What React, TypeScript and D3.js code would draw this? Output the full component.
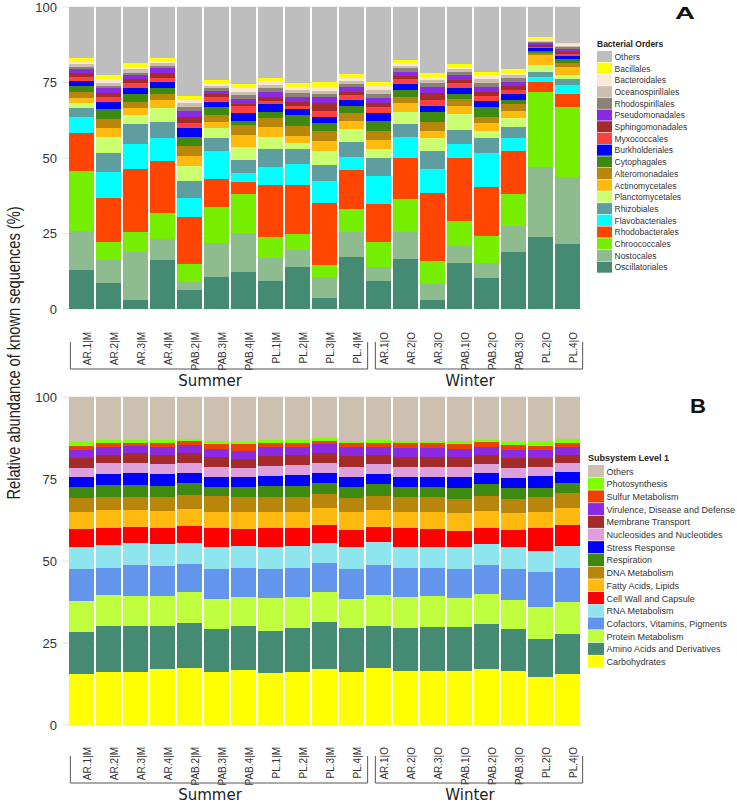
import React, { useEffect, useRef } from 'react';
import * as d3 from 'd3';

const samples = [
  'AR.1|M', 'AR.2|M', 'AR.3|M', 'AR.4|M', 'PAB.2|M', 'PAB.3|M', 'PAB.4|M', 'PL.1|M', 'PL.2|M', 'PL.3|M', 'PL.4|M',
  'AR.1|O', 'AR.2|O', 'AR.3|O', 'PAB.1|O', 'PAB.2|O', 'PAB.3|O', 'PL.2|O', 'PL.4|O'
];
const summerCount = 11;
const yTicks = [0, 25, 50, 75, 100];

// Panel A - bacterial orders (%), bottom of stack first
const oscillatoriales = [12.9, 8.7, 3.0, 16.2, 6.3, 10.7, 12.4, 9.3, 14.0, 3.8, 17.3, 9.3, 16.4, 3.0, 15.3, 10.2, 18.8, 24.0, 21.5];
const nostocales = [12.9, 7.5, 15.8, 7.0, 2.8, 11.3, 12.9, 7.5, 5.5, 6.7, 8.3, 4.7, 9.0, 5.3, 5.6, 5.1, 8.7, 23.1, 22.1];
const chroococcales = [19.9, 6.1, 6.8, 8.7, 5.8, 11.7, 12.8, 7.2, 5.2, 4.1, 7.4, 8.3, 10.9, 7.6, 8.2, 8.9, 10.6, 24.9, 23.4];
const rhodobacterales = [12.5, 14.3, 20.8, 17.2, 15.7, 9.3, 4.1, 17.1, 16.4, 20.6, 13.0, 12.5, 13.8, 22.4, 20.8, 16.3, 14.2, 3.3, 4.2];
const flavobacteriales = [5.5, 8.7, 8.2, 7.4, 6.3, 9.4, 2.7, 6.0, 6.8, 7.3, 4.2, 9.2, 7.0, 8.1, 4.7, 11.3, 4.2, 1.6, 3.0];
const rhizobiales = [3.0, 6.2, 6.7, 5.3, 5.6, 4.1, 4.4, 5.8, 5.0, 5.2, 5.2, 6.1, 4.2, 6.0, 4.7, 4.7, 3.9, 1.7, 1.8];
const planctomycetales = [1.6, 5.3, 2.9, 4.6, 5.0, 3.3, 4.5, 4.2, 2.2, 4.6, 4.1, 2.8, 4.0, 4.1, 5.3, 2.6, 2.7, 2.2, 1.5];
const actinomycetales = [1.7, 3.2, 2.2, 2.8, 3.2, 2.2, 3.8, 3.1, 2.3, 3.3, 2.9, 3.1, 2.8, 2.4, 2.7, 2.4, 2.5, 3.3, 2.7];
const alteromonadales = [2.0, 2.9, 2.3, 2.0, 3.4, 2.2, 3.3, 2.9, 3.2, 3.3, 2.4, 2.9, 2.0, 3.1, 2.1, 2.2, 2.2, 0.8, 1.4];
const cytophagales = [1.8, 3.2, 2.5, 1.9, 2.7, 2.6, 1.5, 2.2, 3.6, 2.6, 2.4, 3.4, 2.4, 3.1, 1.7, 3.1, 1.4, 0.5, 1.1];
const burkholderiales = [1.8, 2.6, 1.9, 2.2, 3.0, 1.6, 2.6, 2.5, 1.9, 2.2, 2.0, 2.5, 2.0, 2.1, 2.0, 2.2, 1.9, 0.9, 1.1];
const myxococcales = [1.1, 1.6, 1.6, 1.1, 1.9, 1.7, 2.2, 1.1, 1.1, 2.0, 1.7, 2.0, 1.7, 2.0, 1.6, 1.5, 1.4, 0.6, 0.6];
const sphingomonadales = [1.3, 1.3, 1.5, 1.6, 1.8, 1.1, 0.7, 1.4, 1.5, 2.6, 1.1, 1.5, 1.0, 2.2, 1.1, 1.5, 1.3, 0.5, 0.8];
const pseudomonadales = [1.4, 1.5, 1.3, 1.7, 2.1, 1.1, 1.7, 1.7, 1.6, 2.0, 1.4, 1.7, 1.4, 2.0, 1.7, 1.6, 1.5, 0.6, 0.8];
const rhodospirillales = [0.8, 0.7, 0.8, 0.8, 1.2, 0.8, 1.3, 1.1, 1.1, 0.9, 1.1, 1.2, 1.1, 1.3, 0.9, 1.1, 1.3, 0.4, 0.6];
const oceanospirillales = [0.9, 0.9, 1.1, 0.8, 1.3, 0.7, 1.1, 1.1, 1.1, 1.1, 1.1, 1.3, 0.8, 1.1, 1.0, 1.3, 0.9, 0.4, 0.5];
const bacteroidales = [0.8, 1.3, 0.8, 0.9, 1.1, 0.9, 1.1, 1.1, 1.1, 1.3, 1.0, 1.3, 0.8, 1.1, 0.6, 1.5, 0.8, 0.4, 0.5];
const bacillales = [1.1, 1.5, 1.1, 1.0, 1.3, 1.1, 1.4, 1.1, 1.4, 1.7, 1.2, 1.5, 1.2, 1.1, 1.1, 1.1, 1.1, 0.8, 0.6];
const othersA = [17.0, 22.5, 18.7, 16.8, 29.5, 24.2, 25.5, 23.6, 25.0, 24.7, 22.2, 24.7, 17.5, 22.0, 18.9, 21.4, 20.6, 10.0, 11.8];

const ordersA = [
  'Oscillatoriales', 'Nostocales', 'Chroococcales', 'Rhodobacterales', 'Flavobacteriales', 'Rhizobiales',
  'Planctomycetales', 'Actinomycetales', 'Alteromonadales', 'Cytophagales', 'Burkholderiales', 'Myxococcales',
  'Sphingomonadales', 'Pseudomonadales', 'Rhodospirillales', 'Oceanospirillales', 'Bacteroidales', 'Bacillales', 'Others'
];
const valuesA = [
  oscillatoriales, nostocales, chroococcales, rhodobacterales, flavobacteriales, rhizobiales, planctomycetales,
  actinomycetales, alteromonadales, cytophagales, burkholderiales, myxococcales, sphingomonadales, pseudomonadales,
  rhodospirillales, oceanospirillales, bacteroidales, bacillales, othersA
];
const colorsA = [
  '#458b74', '#8fbc8f', '#76ee00', '#ff4500', '#00ffff', '#5f9ea0', '#caff70', '#ffb90f', '#b8860b', '#3c8a0f',
  '#0000ff', '#ff4040', '#a52a2a', '#8a2be2', '#8b8178', '#cdbfae', '#fbe8d4', '#ffff00', '#bebebe'
];

// Panel B - subsystem level 1 (%), bottom of stack first
const carbohydrates = [15.5, 16.3, 16.3, 17.0, 17.3, 16.1, 16.8, 15.8, 16.3, 17.1, 16.3, 17.3, 16.6, 16.6, 16.6, 17.0, 16.5, 14.7, 15.4];
const aminoAcids = [13.0, 13.9, 13.9, 13.2, 13.7, 13.1, 13.4, 13.0, 13.2, 14.4, 13.2, 13.0, 12.9, 13.4, 13.2, 13.7, 12.7, 11.4, 12.3];
const proteinMetabolism = [9.3, 9.4, 9.2, 9.2, 9.4, 9.1, 8.7, 9.8, 9.6, 9.2, 8.9, 9.3, 9.4, 9.3, 8.8, 9.1, 8.9, 10.0, 9.7];
const cofactors = [9.8, 8.4, 9.4, 9.1, 8.6, 9.2, 8.9, 9.0, 8.7, 8.8, 9.2, 9.2, 9.1, 8.7, 9.0, 9.0, 9.5, 10.6, 10.6];
const rnaMetabolism = [6.8, 6.9, 6.6, 6.6, 6.6, 6.9, 6.8, 6.8, 6.8, 6.1, 6.6, 7.1, 6.4, 6.4, 6.6, 6.4, 6.8, 6.3, 6.6];
const cellWall = [5.4, 5.3, 5.1, 4.9, 5.1, 5.6, 5.1, 5.6, 5.4, 5.4, 5.3, 4.4, 5.6, 5.3, 5.0, 5.0, 5.1, 7.0, 6.4];
const fattyAcids = [5.0, 5.3, 5.0, 5.2, 5.2, 4.8, 5.3, 5.0, 5.0, 5.1, 5.3, 5.2, 5.0, 5.1, 5.3, 5.1, 5.2, 5.0, 5.3];
const dnaMetabolism = [4.5, 3.9, 4.1, 4.2, 4.2, 5.0, 4.4, 4.4, 4.4, 4.3, 4.5, 4.3, 4.4, 4.6, 4.3, 4.5, 4.1, 4.6, 4.3];
const respiration = [3.2, 3.8, 3.6, 3.5, 3.6, 2.7, 3.1, 3.6, 3.5, 3.3, 3.2, 3.7, 3.3, 3.3, 3.4, 3.6, 3.4, 2.8, 3.1];
const stressResponse = [3.0, 3.2, 3.5, 3.5, 3.0, 3.0, 3.0, 2.9, 3.3, 3.2, 3.2, 3.0, 3.0, 3.0, 3.3, 3.3, 3.2, 3.5, 3.5];
const nucleosides = [2.8, 3.4, 3.3, 3.2, 3.3, 3.1, 2.8, 3.1, 3.1, 3.1, 3.1, 3.1, 3.1, 3.1, 3.1, 2.9, 3.1, 2.7, 2.8];
const membraneTransport = [3.0, 2.5, 2.8, 2.7, 2.8, 3.0, 2.7, 3.0, 3.0, 3.0, 3.2, 2.7, 3.0, 3.0, 3.0, 2.7, 2.8, 2.7, 2.3];
const virulence = [2.5, 2.4, 2.3, 2.4, 2.6, 2.4, 2.6, 2.7, 2.6, 2.7, 2.7, 2.4, 2.5, 2.5, 2.4, 2.6, 2.5, 2.5, 2.4];
const sulfurMetabolism = [1.3, 1.2, 1.0, 1.4, 1.2, 1.7, 2.1, 1.4, 1.2, 1.0, 1.4, 1.4, 1.6, 1.6, 1.7, 1.5, 1.6, 1.4, 1.4];
const photosynthesis = [1.3, 1.0, 0.9, 0.7, 0.7, 0.9, 0.7, 0.9, 0.7, 0.7, 0.6, 0.7, 0.6, 0.8, 0.8, 0.6, 0.9, 1.4, 1.1];
const othersB = [13.6, 13.1, 13.0, 13.2, 12.7, 13.4, 13.6, 13.0, 13.2, 12.6, 13.3, 13.2, 13.5, 13.3, 13.5, 13.0, 13.7, 13.4, 12.8];

const subsystemsB = [
  'Carbohydrates', 'Amino Acids and Derivatives', 'Protein Metabolism', 'Cofactors, Vitamins, Pigments',
  'RNA Metabolism', 'Cell Wall and Capsule', 'Fatty Acids, Lipids', 'DNA Metabolism', 'Respiration',
  'Stress Response', 'Nucleosides and Nucleotides', 'Membrane Transport', 'Virulence, Disease and Defense',
  'Sulfur Metabolism', 'Photosynthesis', 'Others'
];
const valuesB = [
  carbohydrates, aminoAcids, proteinMetabolism, cofactors, rnaMetabolism, cellWall, fattyAcids, dnaMetabolism,
  respiration, stressResponse, nucleosides, membraneTransport, virulence, sulfurMetabolism, photosynthesis, othersB
];
const colorsB = [
  '#ffff00', '#458b74', '#c0ff3e', '#6495ed', '#8ee5ee', '#ff0000', '#ffb90f', '#b8860b', '#3c8a0f',
  '#0000ff', '#dda0dd', '#a52a2a', '#8a2be2', '#ee4000', '#7fff00', '#cdc0b0'
];

const sans = "'Liberation Sans', Arial, Helvetica, sans-serif";
const narrow = "'Liberation Sans Narrow', 'Liberation Sans', Arial, sans-serif";

export default function App() {
  const ref = useRef<SVGSVGElement>(null);

  useEffect(() => {
    document.body.style.margin = '0';
    const svg = d3.select(ref.current);
    svg.selectAll('*').remove();

    const x = d3.scaleBand<string>()
      .domain(samples)
      .range([68, 581])
      .paddingInner(0.1)
      .paddingOuter(0.05);
    const bw = x.bandwidth();

    const drawPanel = (cfg: any) => {
      const y = d3.scaleLinear().domain([0, 100]).range([cfg.bottom, cfg.top]);
      const g = svg.append('g');

      g.selectAll('.grid').data(yTicks).join('line')
        .attr('class', 'grid')
        .attr('x1', 62).attr('x2', 582)
        .attr('y1', d => y(d)).attr('y2', d => y(d))
        .attr('stroke', '#e2e2e2');

      g.selectAll('.ytick').data(yTicks).join('text')
        .attr('class', 'ytick')
        .attr('x', 57).attr('y', d => y(d)).attr('dy', '0.35em')
        .attr('text-anchor', 'end')
        .attr('font-family', sans).attr('font-size', 13).attr('fill', '#333')
        .text(d => d);

      const rows = samples.map((s, i) => {
        const row: any = { sample: s };
        cfg.keys.forEach((k: string, j: number) => { row[k] = cfg.values[j][i]; });
        return row;
      });
      const stacked = d3.stack().keys(cfg.keys)(rows);

      g.selectAll('.layer').data(stacked).join('g')
        .attr('class', 'layer')
        .attr('fill', (d, i) => cfg.colors[i])
        .selectAll('rect').data(d => d).join('rect')
        .attr('x', (d: any) => x(d.data.sample)!)
        .attr('width', bw)
        .attr('y', d => y(d[1]))
        .attr('height', d => y(d[0]) - y(d[1]))
        .attr('shape-rendering', 'crispEdges');

      // rotated sample labels
      g.selectAll('.xlab').data(samples).join('text')
        .attr('class', 'xlab')
        .attr('transform', d => `translate(${x(d)! + bw / 2 + 9},${cfg.labelTop}) rotate(-90)`)
        .attr('text-anchor', 'end')
        .attr('font-family', narrow).attr('font-size', 10).attr('fill', '#333')
        .text(d => d);

      // season brackets
      const groups = [
        { name: 'Summer', x1: x(samples[0])! + 1, x2: x(samples[summerCount - 1])! + bw + 4 },
        { name: 'Winter', x1: x(samples[summerCount])! + 9, x2: x(samples[samples.length - 1])! + bw + 3 },
      ];
      groups.forEach(gr => {
        g.append('path')
          .attr('d', `M${gr.x1},${cfg.bracketY - 27}V${cfg.bracketY}H${gr.x2}V${cfg.bracketY - 27}`)
          .attr('fill', 'none').attr('stroke', '#555').attr('stroke-width', 1);
        g.append('text')
          .attr('x', (gr.x1 + gr.x2) / 2 - 9).attr('y', cfg.bracketY + 17)
          .attr('text-anchor', 'middle')
          .attr('font-family', "'DejaVu Sans', sans-serif").attr('font-size', 15).attr('fill', '#222')
          .text(gr.name);
      });

      // legend (top entry = last stacked key)
      const lg = g.append('g').attr('transform', `translate(${cfg.legendX},${cfg.legendY})`);
      lg.append('text')
        .attr('x', 0).attr('y', -4)
        .attr('font-family', sans).attr('font-size', cfg.legendFont).attr('font-weight', 'bold').attr('fill', '#222')
        .text(cfg.legendTitle);
      const items = cfg.keys.map((k: string, i: number) => ({ k, c: cfg.colors[i] })).reverse();
      const li = lg.selectAll('.li').data(items).join('g')
        .attr('class', 'li')
        .attr('transform', (d, i) => `translate(0,${i * cfg.legendStep})`);
      li.append('rect')
        .attr('width', cfg.swatch).attr('height', cfg.legendStep - 0.6)
        .attr('fill', (d: any) => d.c);
      li.append('text')
        .attr('x', cfg.swatch + 2.5).attr('y', cfg.legendStep / 2).attr('dy', '0.35em')
        .attr('font-family', sans).attr('font-size', cfg.legendFont).attr('fill', '#333')
        .text((d: any) => d.k);

      g.append('text')
        .attr('x', cfg.letterX).attr('y', cfg.letterY)
        .attr('font-family', sans).attr('font-weight', 900).attr('font-size', cfg.letterSize).attr('fill', '#111')
        .attr('textLength', cfg.letterWidth).attr('lengthAdjust', 'spacingAndGlyphs')
        .text(cfg.letter);
    };

    drawPanel({
      keys: ordersA, values: valuesA, colors: colorsA,
      top: 7, bottom: 309, labelTop: 332, bracketY: 369,
      legendX: 597, legendY: 51, legendStep: 11.7, swatch: 15, legendFont: 8.5,
      legendTitle: 'Bacterial Orders', letter: 'A', letterX: 675, letterY: 19, letterSize: 17, letterWidth: 20,
    });
    drawPanel({
      keys: subsystemsB, values: valuesB, colors: colorsB,
      top: 397, bottom: 725, labelTop: 747, bracketY: 783,
      legendX: 588, legendY: 465, legendStep: 12.7, swatch: 16, legendFont: 9,
      legendTitle: 'Subsystem Level 1', letter: 'B', letterX: 690, letterY: 413, letterSize: 21, letterWidth: 16,
    });

    svg.append('text')
      .attr('transform', 'translate(20,353) rotate(-90)')
      .attr('text-anchor', 'middle')
      .attr('font-family', narrow).attr('font-size', 18).attr('fill', '#222')
      .attr('textLength', 293).attr('lengthAdjust', 'spacingAndGlyphs')
      .text('Relative abundance of known sequences (%)');
  }, []);

  return <svg ref={ref} width={737} height={806} style={{ display: 'block' }} />;
}
